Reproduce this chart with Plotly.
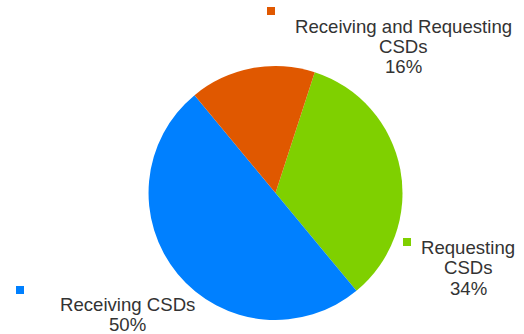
import plotly.graph_objects as go

labels = ["Requesting CSDs", "Receiving CSDs", "Receiving and Requesting CSDs"]
values = [34, 50, 16]
colors = ["#7FD000", "#0080FF", "#E05800"]
label_lines = [["Requesting", "CSDs"], ["Receiving CSDs"], ["Receiving and Requesting", "CSDs"]]

W, H = 524, 334

fig = go.Figure(go.Pie(
    labels=labels, values=values, sort=False, direction="clockwise", rotation=18,
    marker=dict(colors=colors, line=dict(width=0)), textinfo="none", hoverinfo="label+percent",
    domain=dict(x=[148.5 / W, 402.5 / W], y=[14 / H, 268 / H]), showlegend=False,
))

# label placement (pixel centres of each text block, first-line baseline) and marker squares
lab_pos = [(468, 253), (127, 310), (403, 32)]
sq_pos = [(407, 242), (20, 290), (271, 11)]
total = sum(values)
line_h = 20.5
for i, lab in enumerate(labels):
    lines = label_lines[i] + [f"{round(values[i] * 100 / total)}%"]
    cx, by = lab_pos[i]
    for j, ln in enumerate(lines):
        base = by + j * line_h
        fig.add_annotation(x=cx / W, y=1 - (base - 6) / H, xref="paper", yref="paper",
                           text=ln, showarrow=False, xanchor="center", yanchor="middle",
                           font=dict(family="Liberation Sans, Arial", size=18.6, color="#333333"))
    sx, sy = sq_pos[i]
    fig.add_shape(type="rect", xref="paper", yref="paper",
                  x0=(sx - 4) / W, x1=(sx + 4) / W, y0=1 - (sy + 4) / H, y1=1 - (sy - 4) / H,
                  fillcolor=colors[i], line=dict(width=0))

fig.update_layout(width=W, height=H, margin=dict(l=0, r=0, t=0, b=0),
                  paper_bgcolor="white", plot_bgcolor="white")
fig.write_html("out.html")
